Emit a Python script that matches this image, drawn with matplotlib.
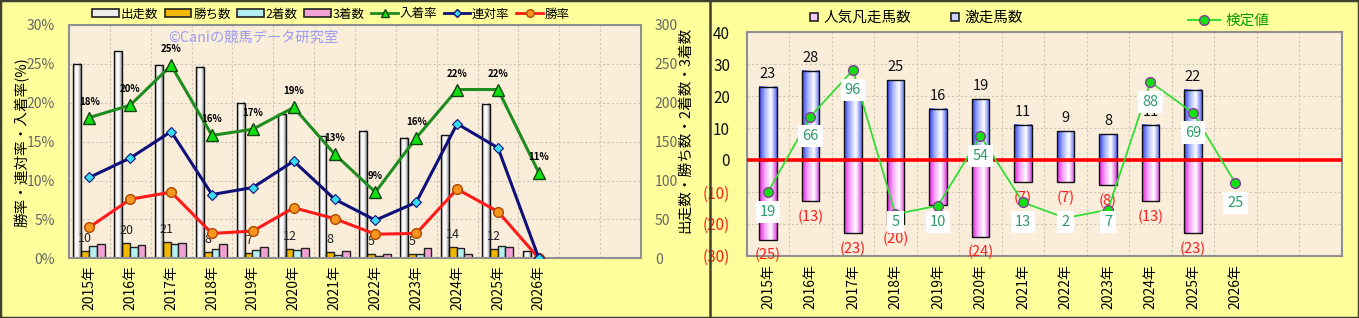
import numpy as np
import matplotlib
matplotlib.use('Agg')
import matplotlib.pyplot as plt
from matplotlib.lines import Line2D
from matplotlib.patches import Rectangle, Patch
from matplotlib.colors import LinearSegmentedColormap

plt.rcParams['font.family'] = ['Noto Sans CJK JP', 'DejaVu Sans']

# ---------------- data ----------------
years = ['2015年', '2016年', '2017年', '2018年', '2019年', '2020年',
         '2021年', '2022年', '2023年', '2024年', '2025年', '2026年']
n_slots = 14

starts = [250, 266, 248, 246, 200, 186, 157, 164, 155, 158, 199, 9]
wins = [10, 20, 21, 8, 7, 12, 8, 5, 5, 14, 12, 0]
seconds = [16, 14, 19, 12, 11, 11, 4, 3, 6, 13, 16, 0]
thirds = [19, 17, 20, 19, 15, 13, 9, 6, 13, 6, 15, 1]

place_rate = [18.1, 19.7, 24.8, 15.8, 16.6, 19.4, 13.4, 8.5, 15.5, 21.7, 21.7, 11.0]
place_rate_labels = ['18%', '20%', '25%', '16%', '17%', '19%', '13%', '9%', '16%', '22%', '22%', '11%']
quinella_rate = [10.4, 12.9, 16.3, 8.2, 9.1, 12.5, 7.6, 4.9, 7.2, 17.3, 14.2, 0.0]
win_rate = [4.0, 7.6, 8.5, 3.2, 3.5, 6.5, 5.1, 3.1, 3.2, 8.9, 6.0, 0.0]

gekiso = [23, 28, 19, 25, 16, 19, 11, 9, 8, 11, 22, 0]          # 激走馬数
ninki_bonso = [25, 13, 23, 20, 14, 24, 7, 7, 8, 13, 23, 0]      # 人気凡走馬数
kentei_values = [19, 66, 96, 5, 10, 54, 13, 2, 7, 88, 69, 25]  # 検定値 labels
kentei_pos = [-10.1, 13.6, 28.2, -17.0, -14.3, 7.5, -13.3, -18.2, -15.6, 24.4, 14.8, -7.3]

# ---------------- figure ----------------
W, H = 1359, 318
BG = '#FFFF9C'
PLOT_BG = '#FAEEDB'
fig = plt.figure(figsize=(W / 100, H / 100), dpi=100, facecolor=BG)


def px_axes(l, t, r, b):
    return fig.add_axes([l / W, 1 - b / H, (r - l) / W, (b - t) / H])


def fx(x):
    return x / W


def fy(y):
    return 1 - y / H


def grad_bar(ax, x, bottom, height, width, cmap, z):
    if height == 0:
        return
    g = np.linspace(0, 1, 64).reshape(1, -1)
    ax.imshow(g, cmap=cmap, aspect='auto', interpolation='bilinear',
              extent=(x - width / 2, x + width / 2, bottom, bottom + height), zorder=z)
    ax.bar(x, height, width, bottom=bottom, fill=False, edgecolor='#111111', lw=1.0, zorder=z + 0.01)


cm_white = LinearSegmentedColormap.from_list('w', ['#9C9C9C', '#FFFFFF', '#F4F4F4', '#8C8C8C'])
cm_blue = LinearSegmentedColormap.from_list('b', ['#3040F0', '#A8B4FF', '#FFFFFF', '#5868F0'])
cm_pink = LinearSegmentedColormap.from_list('p', ['#E020E0', '#F8A8F8', '#FFFFFF', '#E040E0'])

GRID_C = '#CFC6B6'
GRID_LS = (0, (2, 2))

# ================= LEFT CHART =================
axL = px_axes(69, 25, 641, 258.3)    # counts (bars)
axL.set_facecolor(PLOT_BG)
axR = axL.twinx()                     # rates (lines)
axL.yaxis.tick_right()
axR.yaxis.tick_left()

x = np.arange(len(years))
bw = 0.19
offs = np.array([-1.5, -0.5, 0.5, 1.5]) * bw - 0.01

for i in range(len(years)):
    grad_bar(axL, x[i] + offs[0], 0, starts[i], bw, cm_white, 2)
axL.bar(x + offs[1], wins, bw, color='#F2B800', edgecolor='#222222', lw=1.0, zorder=2)
axL.bar(x + offs[2], seconds, bw, color='#B4F0F0', edgecolor='#222222', lw=1.0, zorder=2)
axL.bar(x + offs[3], thirds, bw, color='#F2A2D2', edgecolor='#222222', lw=1.0, zorder=2)

for i in range(len(years)):
    if wins[i] > 0:
        axL.annotate(str(wins[i]), (x[i] + offs[1], wins[i]), xytext=(0, 6),
                     textcoords='offset pixels', ha='center', va='bottom',
                     fontsize=9, color='#222222', zorder=4)

axL.set_xlim(-0.5, n_slots - 0.5)
axL.set_ylim(0, 300)
axL.set_yticks(range(0, 301, 50))
axL.set_xticks(x)
axL.set_xticklabels(years, rotation=90, fontsize=10)
axL.set_xticks(np.arange(0.5, n_slots - 0.5, 1), minor=True)
axL.tick_params(axis='x', which='both', length=0, pad=5)
axL.tick_params(axis='y', length=0, pad=10, labelsize=10, labelcolor='#666666')
axL.set_axisbelow(True)
axL.grid(axis='y', which='major', ls=GRID_LS, color=GRID_C, lw=0.8)
axL.grid(axis='x', which='minor', ls=GRID_LS, color=GRID_C, lw=0.8)
for s in axL.spines.values():
    s.set_color('#909090')
    s.set_linewidth(1.5)
for s in axR.spines.values():
    s.set_visible(False)

axR.set_ylim(0, 30)
axR.set_yticks(range(0, 31, 5))
axR.set_yticklabels([f'{v}%' for v in range(0, 31, 5)])
axR.tick_params(axis='y', length=0, pad=10, labelsize=10, labelcolor='#666666')

axR.plot(x, win_rate, color='#FF1A1A', lw=2.2, marker='o', ms=7,
         mfc='#F7941D', mec='#B04A00', mew=1.0, zorder=5)
axR.plot(x, quinella_rate, color='#10107A', lw=2.2, marker='D', ms=5.5,
         mfc='#3ADCF0', mec='#10107A', mew=0.8, zorder=6)
axR.plot(x, place_rate, color='#1E8C1E', lw=2.2, marker='^', ms=8.5,
         mfc='#10E010', mec='#114411', mew=1.0, zorder=7)
for i in range(len(years)):
    axR.annotate(place_rate_labels[i], (x[i], place_rate[i]), xytext=(0, 11),
                 textcoords='offset pixels', ha='center', va='bottom',
                 fontsize=7, fontweight='bold', color='black', zorder=8)

# watermark
fig.text(fx(168), fy(38), '©Caniの競馬データ研究室', fontsize=10.3,
         color='#9C9CF0', ha='left', va='center')

# axis titles
fig.text(fx(22), fy(142), '勝率・連対率・入着率(%)', rotation=90, fontsize=10.5,
         ha='center', va='center', color='black')
fig.text(fx(685), fy(130), '出走数・勝ち数・2着数・3着数', rotation=90, fontsize=10.5,
         ha='center', va='center', color='black')

# legend (left)
hL = [Patch(facecolor='#EDEDED', edgecolor='#222222', lw=1.2),
      Patch(facecolor='#F2B800', edgecolor='#222222', lw=1.2),
      Patch(facecolor='#B4F0F0', edgecolor='#222222', lw=1.2),
      Patch(facecolor='#F2A2D2', edgecolor='#222222', lw=1.2),
      Line2D([], [], color='#1E8C1E', lw=2, marker='^', ms=6, mfc='#10E010', mec='#114411'),
      Line2D([], [], color='#10107A', lw=2, marker='D', ms=4.5, mfc='#3ADCF0', mec='#10107A'),
      Line2D([], [], color='#FF1A1A', lw=2, marker='o', ms=5.5, mfc='#F7941D', mec='#B04A00')]
labL = ['出走数', '勝ち数', '2着数', '3着数', '入着率', '連対率', '勝率']
legL = fig.legend(hL, labL, loc='center', bbox_to_anchor=(fx(331), fy(14)), ncol=7,
                  frameon=False, fontsize=9, handlelength=2.1, handleheight=0.55,
                  handletextpad=0.15, columnspacing=0.55, borderpad=0)

# ================= RIGHT CHART =================
axB = px_axes(746.7, 32.3, 1341.7, 255.7)
axB.set_facecolor(PLOT_BG)
xb = np.arange(len(years))
bw2 = 0.41
for i in range(len(years)):
    grad_bar(axB, xb[i], 0, gekiso[i], bw2, cm_blue, 2)
    grad_bar(axB, xb[i], 0, -ninki_bonso[i], bw2, cm_pink, 2)
    if gekiso[i] > 0:
        axB.annotate(str(gekiso[i]), (xb[i], gekiso[i]), xytext=(0, 6),
                     textcoords='offset pixels', ha='center', va='bottom',
                     fontsize=10.5, color='#111111', zorder=3)
    if ninki_bonso[i] > 0:
        axB.annotate(f'({ninki_bonso[i]})', (xb[i], -ninki_bonso[i]), xytext=(0, -8),
                     textcoords='offset pixels', ha='center', va='top',
                     fontsize=10.5, color='#FF1A1A', zorder=3)

axB.axhline(0, color='#FF0000', lw=2.6, zorder=4)
axB.plot(xb, kentei_pos, color='#33DD33', lw=1.3, marker='o', ms=7,
         mfc='#11E011', mec='#8A3A9A', mew=1.0, zorder=5)
lab_y = np.maximum(np.array(kentei_pos) - 6.2, -19.4)
for i in range(len(years)):
    axB.text(xb[i], lab_y[i], str(kentei_values[i]), ha='center', va='center',
             fontsize=10.5, color='#2E9A6A', zorder=7,
             bbox=dict(boxstyle='square,pad=0.28', fc='white', ec='none'))

axB.set_xlim(-0.5, n_slots - 0.5)
axB.set_ylim(-30, 40)
yt = list(range(-30, 41, 10))
axB.set_yticks(yt)
axB.set_yticklabels([f'({-v})' if v < 0 else str(v) for v in yt])
for lab, v in zip(axB.get_yticklabels(), yt):
    lab.set_color('#FF1A1A' if v < 0 else '#111111')
axB.tick_params(axis='y', length=0, pad=12, labelsize=11)
axB.set_xticks(xb)
axB.set_xticklabels(years, rotation=90, fontsize=10)
axB.set_xticks(np.arange(0.5, n_slots - 0.5, 1), minor=True)
axB.tick_params(axis='x', which='both', length=0, pad=6)
axB.set_axisbelow(True)
axB.grid(axis='y', which='major', ls=GRID_LS, color=GRID_C, lw=0.8)
axB.grid(axis='x', which='minor', ls=GRID_LS, color=GRID_C, lw=0.8)
for s in axB.spines.values():
    s.set_color('#909090')
    s.set_linewidth(1.5)

hB = [Line2D([], [], marker='s', ls='none', ms=6, mfc='#F8C8F8', mec='#222222', mew=1.2),
      Line2D([], [], marker='s', ls='none', ms=6, mfc='#C8D0FF', mec='#222222', mew=1.2)]
fig.legend(hB, ['人気凡走馬数', '激走馬数'], loc='center', bbox_to_anchor=(fx(916), fy(18)),
           ncol=2, frameon=False, fontsize=10.5, handlelength=0.7, handletextpad=0.3,
           columnspacing=2.6, borderpad=0)
hK = [Line2D([], [], color='#33DD33', lw=1.5, marker='o', ms=7, mfc='#11E011', mec='#8A3A9A')]
legK = fig.legend(hK, ['検定値'], loc='center', bbox_to_anchor=(fx(1229), fy(21)),
                  frameon=False, fontsize=10.5, handlelength=2.2, handletextpad=0.4, borderpad=0)
for t in legK.get_texts():
    t.set_color('#009900')

# borders
fig.add_artist(Rectangle((0, 0), 1, 1, transform=fig.transFigure, fill=False,
                         ec='#404030', lw=2.5))
fig.add_artist(Line2D([fx(710), fx(710)], [0, 1], transform=fig.transFigure,
                      color='#404030', lw=1.8))

fig.savefig('out.png', dpi=100, facecolor=BG)
